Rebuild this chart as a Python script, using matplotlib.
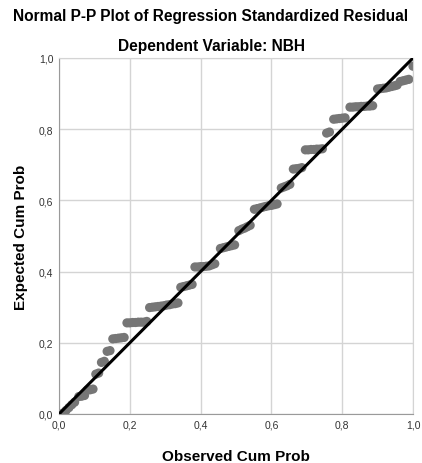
import numpy as np
import matplotlib.pyplot as plt
from matplotlib.ticker import FuncFormatter

plt.rcParams['font.family'] = ['Liberation Sans', 'DejaVu Sans']

# observed cum prob / expected cum prob
observed = [0.012, 0.020, 0.028, 0.036, 0.044,
            0.056, 0.064, 0.072,
            0.080, 0.088, 0.096,
            0.104, 0.112,
            0.120, 0.128,
            0.136, 0.144,
            0.152, 0.160, 0.168, 0.176, 0.184,
            0.192, 0.200, 0.208, 0.216, 0.224, 0.232, 0.240, 0.248,
            0.256, 0.264, 0.272, 0.280, 0.288, 0.296, 0.304, 0.312, 0.320, 0.328, 0.336,
            0.344, 0.352, 0.360, 0.368, 0.376,
            0.384, 0.392, 0.400, 0.408, 0.416, 0.424, 0.432, 0.440,
            0.456, 0.464, 0.472, 0.480, 0.488, 0.496,
            0.508, 0.516, 0.524, 0.532, 0.540,
            0.552, 0.560, 0.568, 0.576, 0.584, 0.592, 0.600, 0.608, 0.616,
            0.628, 0.636, 0.644, 0.652,
            0.662, 0.670, 0.678, 0.686,
            0.696, 0.704, 0.712, 0.720, 0.728, 0.736, 0.744,
            0.756, 0.764,
            0.776, 0.784, 0.792, 0.800, 0.808,
            0.822, 0.830, 0.838, 0.846, 0.854, 0.862, 0.870, 0.878, 0.886,
            0.900, 0.908, 0.916, 0.924, 0.932, 0.940, 0.948, 0.955,
            0.964, 0.972, 0.980, 0.988,
            1.000]
expected = [0.003, 0.010, 0.018, 0.026, 0.033,
            0.049, 0.050, 0.052,
            0.067, 0.068, 0.070,
            0.112, 0.115,
            0.145, 0.148,
            0.176, 0.178,
            0.211, 0.212, 0.213, 0.214, 0.215,
            0.256, 0.256, 0.257, 0.257, 0.258, 0.258, 0.258, 0.260,
            0.299, 0.300, 0.301, 0.302, 0.303, 0.304, 0.306, 0.307, 0.309, 0.310, 0.312,
            0.356, 0.358, 0.360, 0.362, 0.364,
            0.413, 0.413, 0.414, 0.414, 0.415, 0.416, 0.419, 0.422,
            0.465, 0.467, 0.469, 0.471, 0.473, 0.475,
            0.515, 0.519, 0.522, 0.526, 0.530,
            0.575, 0.577, 0.579, 0.581, 0.583, 0.585, 0.586, 0.588, 0.590,
            0.635, 0.638, 0.641, 0.645,
            0.688, 0.689, 0.690, 0.692,
            0.742, 0.742, 0.743, 0.743, 0.744, 0.744, 0.745,
            0.789, 0.792,
            0.828, 0.829, 0.830, 0.831, 0.832,
            0.862, 0.862, 0.863, 0.863, 0.864, 0.864, 0.865, 0.865, 0.866,
            0.913, 0.914, 0.915, 0.916, 0.918, 0.920, 0.922, 0.924,
            0.934, 0.936, 0.938, 0.940,
            0.977]
ticks = [0.0, 0.2, 0.4, 0.6, 0.8, 1.0]

fig = plt.figure(figsize=(4.22, 4.64), dpi=100)
ax = fig.add_axes([59 / 422, 49 / 464, 354 / 422, 356 / 464])

ax.scatter(observed, expected, s=44, color='#767676', edgecolors='none', zorder=2)
ax.plot([0, 1], [0, 1], color='black', lw=2.2, zorder=3)

ax.set_xlim(0, 1)
ax.set_ylim(0, 1)
ax.set_xticks(ticks)
ax.set_yticks(ticks)
fmt = FuncFormatter(lambda v, p: ('%.1f' % v).replace('.', ','))
ax.xaxis.set_major_formatter(fmt)
ax.yaxis.set_major_formatter(fmt)
ax.tick_params(length=0, labelsize=7.5, colors='#333333', pad=4)
ax.grid(True, color='#d4d4d4', lw=1)
ax.set_axisbelow(True)
for s in ['top', 'right']:
    ax.spines[s].set_color('#d4d4d4')
for s in ['left', 'bottom']:
    ax.spines[s].set_color('#9a9a9a')

ax.set_xlabel('Observed Cum Prob', fontsize=11, fontweight='bold', labelpad=14)
ax.set_ylabel('Expected Cum Prob', fontsize=11, fontweight='bold', labelpad=8)

fig.text(0.5, 1 - 17 / 464, 'Normal P-P Plot of Regression Standardized Residual',
         ha='center', va='center', fontsize=11.2, fontweight='bold')
fig.text(0.5, 1 - 47 / 464, 'Dependent Variable: NBH',
         ha='center', va='center', fontsize=11.2, fontweight='bold')

fig.savefig('out.png', dpi=100)
